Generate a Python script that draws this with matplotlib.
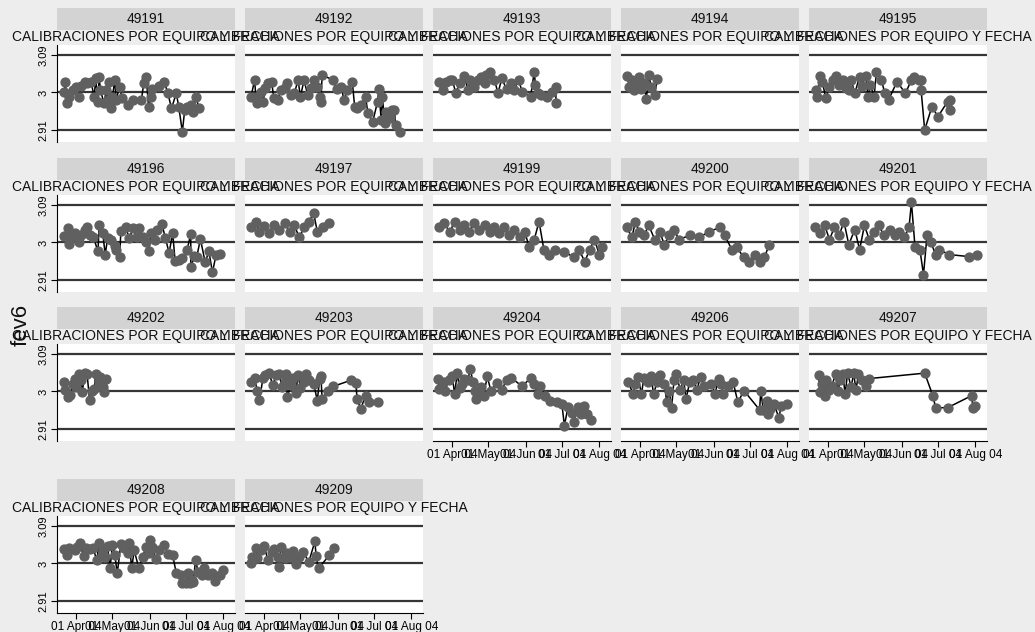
import matplotlib
matplotlib.use("Agg")
import matplotlib.pyplot as plt
from matplotlib.patches import Rectangle

plt.rcParams['font.family'] = ['Liberation Sans', 'DejaVu Sans']

W, H = 1035, 632

subtitle = "CALIBRACIONES POR EQUIPO Y FECHA"
ylabel = "fev6"
tick_days = [0, 30, 61, 91, 122]          # days since 01 Apr 2004
tick_labels = ["01 Apr 04", "01 May 04", "01 Jun 04", "01 Jul 04", "01 Aug 04"]
y_ticks = [2.91, 3.0, 3.09]
y_ticklabels = ["2.91", "3", "3.09"]

# ---- data: days since 01 Apr 2004, fev6 values ----
d_49191 = [-10,-9,-8,-6,-3,0,2,4,7,9,12,15,16,18,19,20,23,25,26,27,29,30,32,33,36,38,43,47,54,56,58,60,62,63,69,73,76,79,83,85,88,90,92,95,97,99,102]
v_49191 = [3.000,3.026,2.974,2.990,3.006,3.014,2.990,3.016,3.026,3.022,3.026,2.990,3.034,2.978,3.038,3.006,2.974,3.006,2.982,3.026,2.962,2.990,3.030,2.982,3.013,2.986,2.970,2.982,2.982,3.022,3.037,2.966,2.990,3.008,3.016,3.026,2.998,2.962,2.998,2.966,2.906,2.958,2.966,2.970,2.954,2.990,2.962]

d_49192 = [-11,-8,-7,-6,-3,-1,1,3,6,8,11,14,17,19,22,25,28,30,33,36,39,41,44,46,47,48,57,60,64,66,69,73,75,77,80,84,86,90,94,95,97,98,100,101,104,106,108,109,113]
v_49192 = [2.990,3.030,2.990,2.974,3.002,2.978,3.010,3.022,3.026,2.986,2.982,3.006,3.010,3.022,2.994,2.998,3.030,2.990,3.030,2.994,3.010,3.030,3.014,2.990,2.978,3.042,3.030,3.008,3.014,2.982,3.006,3.026,2.966,2.962,2.970,2.990,2.950,2.930,2.978,3.008,2.934,2.990,2.926,2.954,2.938,2.958,2.958,2.922,2.906]

d_49193 = [-11,-8,-5,-2,0,3,6,10,13,15,18,21,24,27,28,31,35,38,41,45,49,51,55,58,65,68,69,71,74,79,83,86,86]
v_49193 = [3.026,3.005,3.026,3.030,3.030,2.998,3.022,3.040,3.006,3.030,3.014,3.030,3.038,3.022,3.042,3.048,3.030,2.998,3.034,3.008,3.022,3.006,3.030,3.002,2.990,3.050,3.018,2.998,2.994,2.989,3.002,3.013,2.974]

d_49194 = [-11,-9,-7,-5,-3,-1,1,3,5,7,9,12,14]
v_49194 = [3.040,3.013,3.030,3.006,3.022,3.038,3.008,3.022,2.984,3.042,3.014,2.994,3.032]

d_49195 = [-10,-9,-7,-5,-2,1,4,6,9,12,15,17,19,22,26,28,31,33,35,38,40,44,47,50,57,64,69,71,75,77,77,80,86,91,99,101,101]
v_49195 = [3.006,2.990,3.040,3.026,2.986,3.013,3.030,3.040,3.018,3.030,3.010,3.006,3.030,2.998,3.038,3.016,3.040,2.990,3.018,2.990,3.050,3.030,2.998,2.982,3.026,2.998,3.030,3.038,3.030,3.030,3.006,2.910,2.966,2.942,2.978,2.982,2.958]

d_49196 = [-10,-7,-6,-4,-1,2,4,7,9,11,14,18,19,22,24,26,29,32,33,36,37,41,44,47,50,52,55,58,60,62,65,67,71,74,77,80,82,85,88,92,95,95,98,100,103,107,110,113,116,119]
v_49196 = [3.016,3.034,2.997,3.014,3.022,3.002,3.018,3.031,3.037,3.018,3.014,2.979,3.041,3.022,2.971,3.010,3.006,2.991,2.983,2.966,3.028,3.036,3.010,3.034,3.012,3.034,3.014,3.002,2.979,3.022,3.006,3.030,3.044,3.010,2.975,3.022,2.956,2.959,2.963,2.983,3.020,2.940,2.967,2.966,3.008,2.952,2.979,2.928,2.971,2.973]

d_49197 = [-11,-7,-4,0,4,8,12,17,21,25,29,33,37,41,44,49,54]
v_49197 = [3.036,3.050,3.026,3.040,3.022,3.043,3.031,3.046,3.026,3.041,3.012,3.036,3.050,3.070,3.026,3.036,3.046]

d_49199 = [-11,-7,-2,2,6,10,14,18,22,27,31,35,39,43,47,51,56,60,64,68,72,76,80,85,93,101,105,110,114,118,122,124]
v_49199 = [3.036,3.046,3.026,3.050,3.031,3.041,3.026,3.046,3.031,3.041,3.026,3.036,3.022,3.036,3.017,3.031,3.012,3.026,2.988,3.007,3.050,2.983,2.971,2.983,2.978,2.964,2.983,2.954,2.983,3.007,2.971,2.988]

d_49200 = [-11,-7,-4,-1,3,7,12,16,20,24,28,32,41,49,57,66,70,76,80,86,90,95,99,103,107]
v_49200 = [3.036,3.012,3.050,3.026,3.017,3.041,3.007,3.026,2.995,3.017,3.031,3.007,3.017,3.012,3.026,3.036,3.017,2.983,2.988,2.964,2.954,2.971,2.954,2.964,2.995]

d_49201 = [-11,-7,-3,1,5,9,13,17,22,26,30,34,38,42,46,51,55,59,63,67,69,72,76,79,82,85,89,92,100,117,123]
v_49201 = [3.036,3.022,3.041,3.007,3.036,3.017,3.050,2.995,3.031,2.983,3.041,3.007,3.026,3.041,3.017,3.031,3.017,3.026,3.012,3.036,3.096,2.988,2.983,2.923,3.019,3.002,2.971,2.983,2.971,2.966,2.969]

d_49202 = [-10,-9,-7,-5,-3,-1,0,2,4,5,7,9,11,13,15,16,19,20,22,23,25]
v_49202 = [3.023,3.004,2.986,2.992,3.019,3.031,3.011,3.041,3.027,2.998,3.045,3.041,2.980,3.002,3.006,3.041,3.023,3.035,3.011,2.998,3.029]

d_49203 = [-11,-8,-6,-4,-1,1,4,7,10,12,15,17,18,19,22,24,26,28,30,33,35,37,41,44,46,47,48,53,57,72,76,77,80,84,87,94]
v_49203 = [3.023,3.033,3.002,2.980,3.033,3.039,3.045,3.015,3.039,3.041,3.011,3.023,3.041,2.986,3.015,3.033,2.996,3.039,3.009,3.023,3.041,3.027,3.019,2.978,3.031,3.036,2.982,3.002,3.012,3.027,3.020,2.982,2.958,2.990,2.974,2.974]

d_49204 = [-12,-11,-8,-6,-3,0,2,4,6,8,10,13,15,17,19,20,22,24,26,29,32,37,41,45,49,58,65,68,71,73,77,81,87,91,93,96,99,101,104,107,109,112,115]
v_49204 = [3.031,3.006,3.023,3.001,3.027,3.036,2.993,3.044,3.009,3.018,3.031,3.028,3.055,3.023,3.002,2.982,2.996,3.010,2.990,3.036,3.002,3.020,3.004,3.027,3.033,3.012,3.033,3.018,2.993,3.012,2.990,2.978,2.974,2.969,2.918,2.962,2.948,2.926,2.962,2.946,2.964,2.946,2.932]

d_49206 = [-10,-6,-4,-2,1,3,6,9,11,14,16,20,22,24,26,28,30,33,36,38,41,44,47,50,53,59,62,65,67,69,73,77,81,86,99,100,102,105,106,108,111,115,117,122]
v_49206 = [3.023,2.994,3.019,3.035,2.994,3.033,3.023,3.036,2.994,3.023,3.039,3.019,2.974,3.002,2.961,3.027,3.043,3.004,3.027,2.982,3.023,3.028,3.004,3.035,3.012,3.019,2.994,3.031,3.018,2.994,3.012,3.023,2.974,3.002,2.956,3.002,2.956,2.978,2.946,2.958,2.969,2.937,2.966,2.969]

d_49207 = [-8,-7,-5,-3,-2,1,3,6,8,10,12,14,16,19,21,23,25,28,31,34,80,87,89,99,119,120,122]
v_49207 = [3.039,2.998,3.018,2.990,3.027,3.004,3.014,3.041,3.001,3.027,3.041,2.994,3.044,3.010,3.044,3.004,3.041,3.027,3.012,3.031,3.044,2.988,2.961,2.961,2.990,2.961,2.964]

d_49208 = [-10,-8,-6,-1,1,3,6,8,11,14,17,19,21,22,24,26,28,30,32,34,37,40,43,44,46,48,52,55,58,60,61,63,66,69,73,76,80,83,87,88,91,93,94,96,97,99,101,104,106,109,113,115,119,122]
v_49208 = [3.034,3.020,3.036,3.032,3.039,3.049,3.018,3.036,3.034,3.036,3.008,3.049,3.020,3.032,3.016,3.041,2.988,3.045,3.020,2.976,3.047,3.036,3.024,3.049,2.988,3.032,2.988,3.016,3.039,3.024,3.057,3.039,3.010,3.032,3.045,3.023,3.020,2.976,2.972,2.953,2.953,2.976,2.953,2.961,2.955,3.008,2.980,2.972,2.988,2.972,2.976,2.958,2.972,2.984]

d_49209 = [-11,-10,-7,-6,-3,0,3,6,8,11,12,14,17,19,21,24,26,29,32,37,42,43,45,54,58]
v_49209 = [3.000,3.016,3.036,3.012,3.032,3.041,3.008,3.028,3.034,3.016,2.992,3.039,3.012,3.024,3.016,3.031,2.998,3.016,3.028,3.004,3.053,3.018,2.988,3.020,3.036]

equipos = ["49191","49192","49193","49194","49195",
           "49196","49197","49199","49200","49201",
           "49202","49203","49204","49206","49207",
           "49208","49209"]
series = [(d_49191, v_49191), (d_49192, v_49192), (d_49193, v_49193), (d_49194, v_49194), (d_49195, v_49195),
          (d_49196, v_49196), (d_49197, v_49197), (d_49199, v_49199), (d_49200, v_49200), (d_49201, v_49201),
          (d_49202, v_49202), (d_49203, v_49203), (d_49204, v_49204), (d_49206, v_49206), (d_49207, v_49207),
          (d_49208, v_49208), (d_49209, v_49209)]

# ---- layout (pixels) ----
col_left = [57, 245, 433, 621, 809]
row_top = [45, 195, 344, 516]
pw, ph = 178, 97
xlim = (-16, 131.7)
ylim = (2.881, 3.114)

fig = plt.figure(figsize=(W / 100, H / 100), dpi=100)
fig.patch.set_facecolor('#ededed')

def fx(x):
    return x / W

def fy(y):
    return 1 - y / H

bottom_panels = {12, 13, 14, 15, 16}

for i, (eq, (dd, vv)) in enumerate(zip(equipos, series)):
    r, c = divmod(i, 5)
    x0, y0 = col_left[c], row_top[r]
    ax = fig.add_axes([fx(x0), fy(y0 + ph), pw / W, ph / H])
    ax.set_facecolor('white')
    ax.set_xlim(*xlim)
    ax.set_ylim(*ylim)
    for yt in y_ticks:
        ax.axhline(yt, color='#363636', lw=1.6, zorder=1)
    ax.plot(dd, vv, color='black', lw=1.1, zorder=2)
    ax.plot(dd, vv, linestyle='none', marker='o', ms=6.4,
            mfc='#606060', mec='#606060', zorder=3)
    for s in ax.spines.values():
        s.set_visible(False)
    # y axis
    if c == 0:
        ax.spines['left'].set_visible(True)
        ax.spines['left'].set_color('black')
        ax.spines['left'].set_linewidth(0.8)
        ax.set_yticks(y_ticks)
        ax.set_yticklabels(y_ticklabels)
        ax.tick_params(axis='y', direction='out', length=4, width=0.8, pad=2,
                       labelsize=8, colors='black')
        for lbl in ax.get_yticklabels():
            lbl.set_rotation(90)
            lbl.set_va('center')
            lbl.set_ha('right')
    else:
        ax.set_yticks([])
    # x axis
    if i in bottom_panels:
        ax.spines['bottom'].set_visible(True)
        ax.spines['bottom'].set_color('black')
        ax.spines['bottom'].set_linewidth(0.8)
        ax.set_xticks(tick_days)
        ax.set_xticklabels(tick_labels)
        ax.tick_params(axis='x', direction='out', length=4, width=0.8, pad=2,
                       labelsize=8.5, colors='black')
    else:
        ax.set_xticks([])
    # strip header
    fig.patches.append(Rectangle((fx(x0), fy(y0 - 15)), pw / W, 22 / H,
                                 transform=fig.transFigure, facecolor='#d3d3d3',
                                 edgecolor='none', zorder=0))
    fig.text(fx(x0 + pw / 2), fy(y0 - 26), eq, ha='center', va='center',
             fontsize=10, color='#111111')
    fig.text(fx(x0 + pw / 2), fy(y0 - 8), subtitle, ha='center', va='center',
             fontsize=10, color='#111111')

fig.text(fx(21), fy(325), ylabel, rotation=90, ha='center', va='center',
         fontsize=16, color='#111111')

fig.savefig('out.png', dpi=100, facecolor=fig.get_facecolor())
